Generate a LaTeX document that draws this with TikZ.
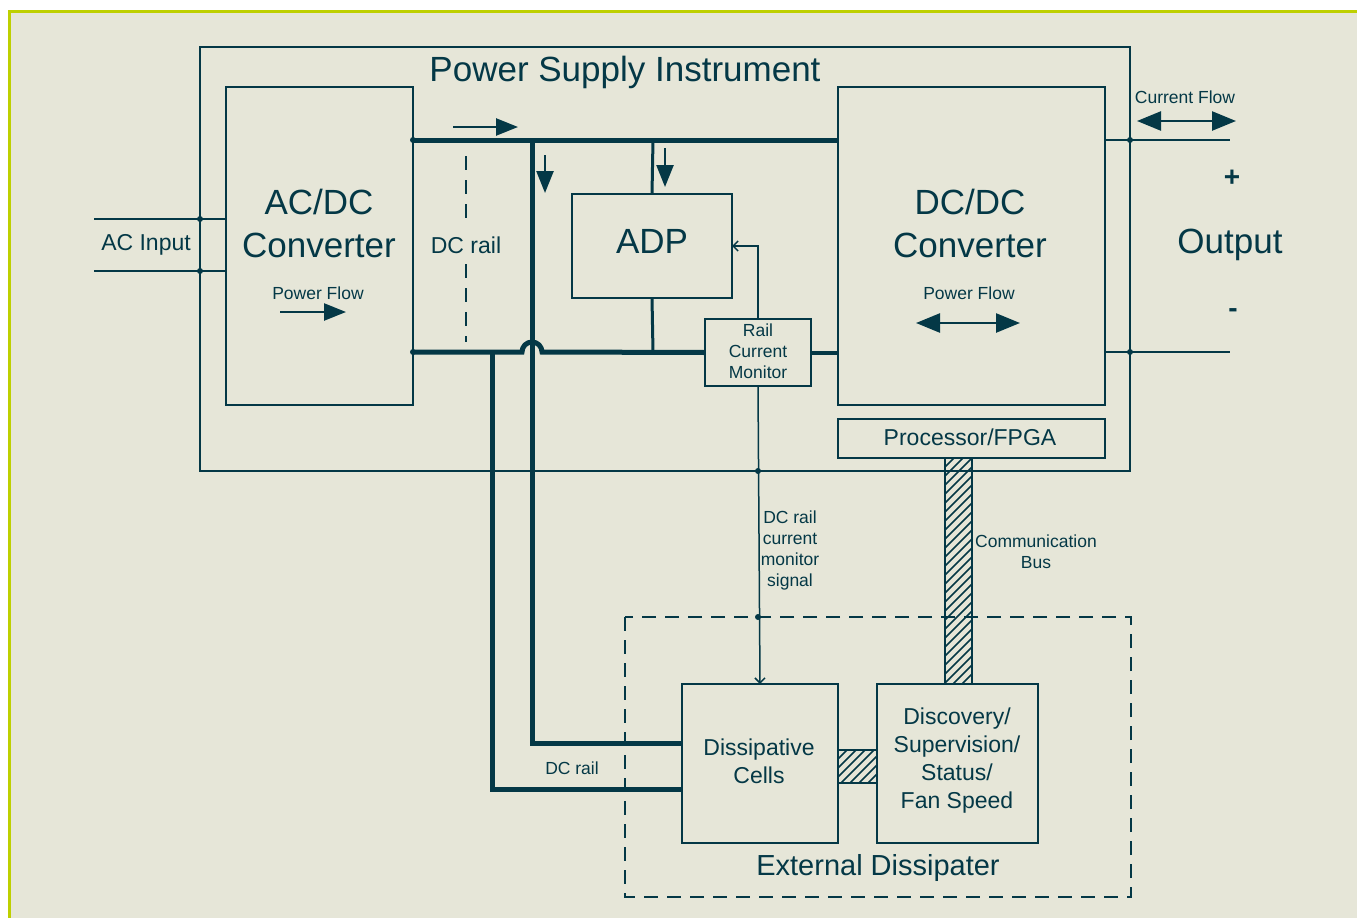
\documentclass[tikz,border=0pt]{standalone}
\usepackage{fontspec}
\setmainfont{Liberation Sans}
\usetikzlibrary{arrows.meta}
\definecolor{lc}{RGB}{4,56,70}
\definecolor{bg}{RGB}{230,230,216}
\definecolor{brd}{RGB}{190,208,0}
\begin{document}
\begin{tikzpicture}[x=1pt,y=-1pt,
 box/.style={draw=lc,line width=2pt,inner sep=0pt,outer sep=0pt},
 txt/.style={text=lc,inner sep=0pt,align=center},
 big/.style={font=\fontsize{35}{43}\selectfont},
 ttl/.style={font=\fontsize{35}{40}\selectfont},
 mid/.style={font=\fontsize{23}{28}\selectfont},
 sml/.style={font=\fontsize{17.5}{21}\selectfont},
 rail/.style={draw=lc,line width=5pt},
 wire/.style={draw=lc,line width=2pt},
 sig/.style={draw=lc,line width=1.5pt},
 jdot/.style={circle,fill=lc,inner sep=0pt,minimum size=6pt},
 fat/.style={-{Triangle[length=22pt,width=17pt]},draw=lc,line width=2.5pt},
 dfat/.style={{Triangle[length=24pt,width=19pt]}-{Triangle[length=24pt,width=19pt]},draw=lc,line width=2.5pt},
 barb/.style={-{Straight Barb[length=5pt,width=10pt]},draw=lc,line width=1.5pt},
 ]
\useasboundingbox (0,0) rectangle (1357,918);
\fill[white] (0,0) rectangle (1357,918);
\fill[bg] (9,11) rectangle (1357,918);
\draw[brd,line width=3pt] (9,918) -- (9,11) -- (1357,11);

% boxes
\node[box,minimum width=930pt,minimum height=424pt] (psi) at (665,259) {};
\node[txt,ttl] (psititle) at (625,72) {Power Supply Instrument};
\node[box,minimum width=187pt,minimum height=318pt] (acdc) at (319.5,246) {};
\node[box,minimum width=267pt,minimum height=318pt] (dcdc) at (971.5,246) {};
\node[box,minimum width=160pt,minimum height=104pt] (adp) at (652,246) {};
\node[box,minimum width=106pt,minimum height=67pt] (rcm) at (758,352.5) {};
\node[box,minimum width=267pt,minimum height=39pt] (fpga) at (971.5,438.5) {};
\node[box,minimum width=156pt,minimum height=159pt] (cells) at (760,763.5) {};
\node[box,minimum width=161pt,minimum height=159pt] (disc) at (957.5,763.5) {};
\draw[lc,line width=2.5pt,dash pattern=on 14pt off 9pt] (625,617) rectangle (1131,897);

% texts
\node[txt,big] (acdct) at (319,223) {AC/DC\\Converter};
\node[txt,sml] (acdcpf) at (318,293) {Power Flow};
\node[txt,big] (dcdct) at (970,223) {DC/DC\\Converter};
\node[txt,sml] (dcdcpf) at (969,293) {Power Flow};
\node[txt,big] (adpt) at (652,241) {ADP};
\node[txt,sml] (rcmt) at (758,351) {Rail\\Current\\Monitor};
\node[txt,mid] (fpgat) at (970,437) {Processor/FPGA};
\node[txt,mid] (cellst) at (759,761) {Dissipative\\Cells};
\node[txt,mid] (disct) at (957,761) {Discovery/\\Supervision/\\Status/\\Fan Speed};
\node[txt,font=\fontsize{29}{34}\selectfont] (extt) at (878,868) {External Dissipater};
\node[txt,mid] (acin) at (146,245) {AC Input};
\node[txt,mid] (dcrail1) at (466,245) {DC rail};
\node[txt,sml] (dcrail2) at (572,768) {DC rail};
\node[txt,sml] (curflow) at (1185,97) {Current Flow};
\node[txt,font=\fontsize{28}{30}\selectfont\bfseries] (plus) at (1232,178) {+};
\node[txt,big] (outp) at (1230,245) {Output};
\node[txt,font=\fontsize{28}{30}\selectfont\bfseries] (minus) at (1233,313) {-};
\node[txt,sml] (combus) at (1036,552) {Communication\\Bus};
\node[txt,sml] (sigt) at (790,550) {DC rail\\current\\monitor\\signal};

% AC input
\draw[wire] (94,219) -- (acdc.west |- 0,219);
\draw[wire] (94,271) -- (acdc.west |- 0,271);
% rails
\coordinate (tr1) at (413,140);
\coordinate (tr2) at (838,140);
\draw[rail] (tr1) -- (tr2);
\coordinate (br1) at (413,352);
\draw[rail] (br1) -- (522,352) arc[start angle=180,end angle=360,radius=10] -- (rcm.west);
\draw[rail,line width=4pt] (rcm.east) -- (dcdc.west |- rcm.east);
\draw[rail] (532,140) -- (532,743) -- (cells.west |- 0,743);
\draw[rail] (492,352) -- (492,789) -- (cells.west |- 0,789);
\draw[wire,line width=3pt] (653,140) -- (adp.north);
\draw[wire,line width=3pt] (adp.south) -- (653,352);
% DC rail dashed
\draw[lc,line width=2pt,dash pattern=on 14pt off 10pt] (466,156) -- (466,228);
\draw[lc,line width=2pt,dash pattern=on 14pt off 10pt] (466,264) -- (466,342);
% output
\draw[wire] (dcdc.east |- 0,140) -- (1230,140);
\draw[wire] (dcdc.east |- 0,352) -- (1230,352);
% signals
\draw[barb] (rcm.north) -- (758,246) -- (adp.east |- 0,246);
\draw[barb] (rcm.south) -- (cells.north);
% arrows
\draw[fat] (453,127) -- (518,127);
\draw[fat] (545,155) -- (545,193);
\draw[fat] (665,148) -- (665,187);
\draw[fat] (280,312) -- (346,312);
\draw[dfat] (916,323) -- (1020,323);
\draw[dfat] (1137,121) -- (1236,121);

% hatched bars
\begin{scope}
\clip (945,458) rectangle (972,684);
\foreach \k in {0,9,...,270} \draw[lc,line width=1.5pt] (945,458+\k) -- ++(40,-40);
\end{scope}
\draw[lc,line width=2.5pt] (945,458) rectangle (972,684);
\begin{scope}
\clip (838,750) rectangle (877,783);
\foreach \k in {0,9,...,80} \draw[lc,line width=1.5pt] (838,750+\k) -- ++(40,-40);
\end{scope}
\draw[lc,line width=2pt] (838,750) rectangle (877,783);

% junction dots
\foreach \p in {(200,219),(200,271),(413,140),(413,352),(1130,140),(1130,352),(758,471),(758,617)}
  \node[jdot] at \p {};
\end{tikzpicture}
\end{document}
